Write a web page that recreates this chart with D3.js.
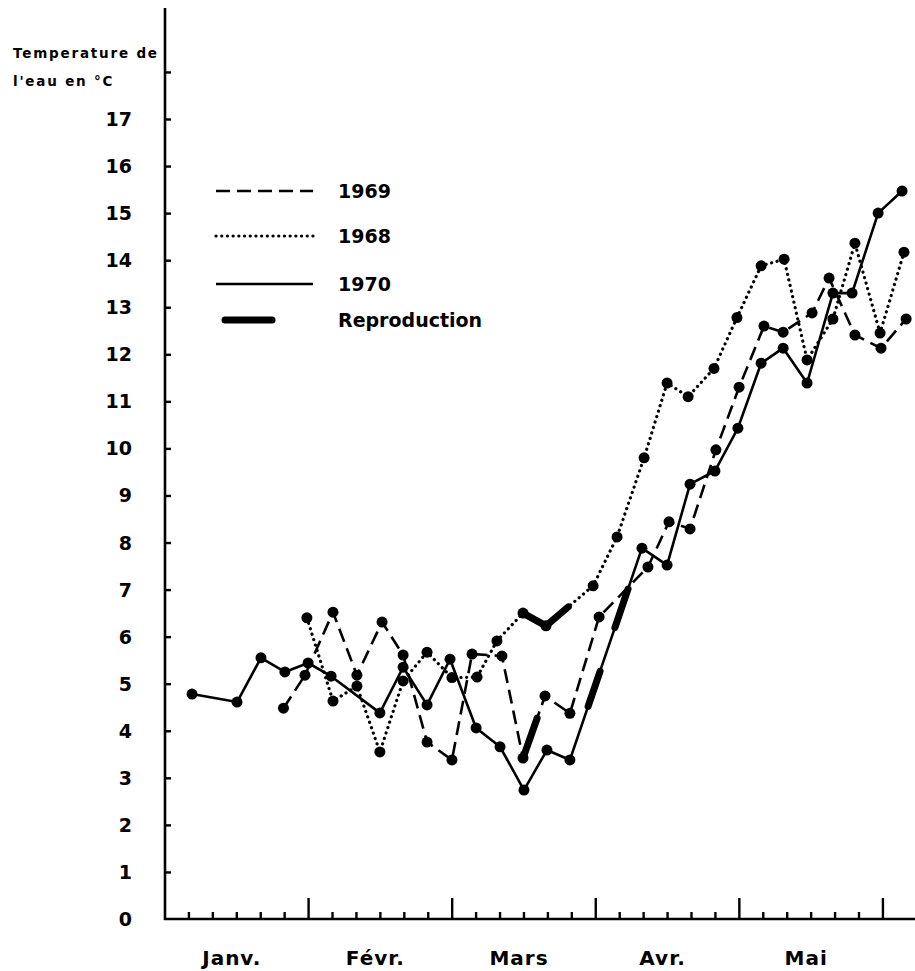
<!DOCTYPE html>
<html>
<head>
<meta charset="utf-8">
<script src="https://cdn.jsdelivr.net/npm/d3@7/dist/d3.min.js"></script>
<style>
  html, body { margin: 0; padding: 0; background: #fff; }
  svg { display: block; }
  text { font-family: "DejaVu Sans", sans-serif; font-weight: bold; fill: #000; }
</style>
</head>
<body>
<div id="chart"></div>
<script>
// Time axis in fifths of a month (6 divisions per month, Jan start = 0)
const months = ["Janv.", "Févr.", "Mars", "Avr.", "Mai"];
const yTicks = [0, 1, 2, 3, 4, 5, 6, 7, 8, 9, 10, 11, 12, 13, 14, 15, 16, 17];

// 1970 — solid
const t1970 = [1.13, 3.01, 4.01, 5.01, 5.98, 6.94, 8.98, 9.95, 10.95, 11.91, 13.0, 14.0, 15.0, 15.96, 16.92, 19.93, 20.98, 21.94, 22.98, 23.94, 24.91, 25.83, 26.83, 27.91, 28.71, 29.8, 30.8];
const v1970 = [4.78, 4.61, 5.55, 5.25, 5.44, 5.16, 4.38, 5.35, 4.55, 5.52, 4.06, 3.66, 2.74, 3.59, 3.38, 7.88, 7.52, 9.24, 9.52, 10.43, 11.81, 12.13, 11.39, 13.30, 13.30, 15.0, 15.47];

// 1969 — dashed
const t1969 = [4.95, 5.85, 7.02, 8.02, 9.07, 9.95, 10.95, 11.99, 12.83, 14.08, 14.96, 15.88, 16.92, 18.14, 20.18, 21.06, 21.94, 23.02, 23.99, 25.03, 25.83, 27.04, 27.75, 28.83, 29.92, 30.97];
const v1969 = [4.48, 5.18, 6.52, 5.18, 6.31, 5.61, 3.76, 3.38, 5.63, 5.59, 3.42, 4.74, 4.37, 6.42, 7.48, 8.44, 8.29, 9.97, 11.3, 12.6, 12.47, 12.88, 13.62, 12.41, 12.13, 12.75];

// 1968 — dotted
const t1968 = [5.93, 7.02, 8.02, 8.98, 9.95, 10.95, 11.99, 13.04, 13.87, 14.96, 15.92, 17.89, 18.89, 20.02, 20.98, 21.86, 22.94, 23.9, 24.91, 25.87, 26.83, 27.91, 28.83, 29.88, 30.88];
const v1968 = [6.40, 4.63, 4.95, 3.55, 5.06, 5.67, 5.13, 5.14, 5.91, 6.50, 6.23, 7.08, 8.12, 9.80, 11.39, 11.1, 11.7, 12.78, 13.88, 14.02, 11.88, 12.75, 14.36, 12.45, 14.17];

// Reproduction periods (start, end on the time axis) for each year
const repro1968 = [[14.96, 16.85]];
const repro1969 = [[14.96, 15.55]];
const repro1970 = [[17.68, 18.18], [18.8, 19.35]];

const legendLabels = ["1969", "1968", "1970", "Reproduction"];

const W = 915, H = 971;
const svg = d3.select("#chart").append("svg").attr("width", W).attr("height", H);

const x = d3.scaleLinear().domain([0, 31.34]).range([165, 915]);
const y = d3.scaleLinear().domain([0, 17]).range([919, 119]);

const styles = {
  solid:  { width: 2.6, dash: null, cap: "butt" },
  dashed: { width: 2.6, dash: "14 7", cap: "butt" },
  dotted: { width: 3.2, dash: "0.1 5.6", cap: "round" }
};

const series = [
  { t: t1968, v: v1968, style: styles.dotted, repro: repro1968 },
  { t: t1969, v: v1969, style: styles.dashed, repro: repro1969 },
  { t: t1970, v: v1970, style: styles.solid,  repro: repro1970 }
];

// ---- axes ----
const axes = svg.append("g").attr("stroke", "#000").attr("fill", "none");
axes.append("line").attr("x1", x(0)).attr("x2", x(0)).attr("y1", 8).attr("y2", y(0) + 1).attr("stroke-width", 2.6);
axes.append("line").attr("x1", x(0) - 1).attr("x2", 915).attr("y1", y(0)).attr("y2", y(0)).attr("stroke-width", 2.6);

// y ticks (inside), including the unlabelled 18
const yAxis = d3.axisRight(y).tickValues(d3.range(1, 19)).tickSize(6).tickFormat("");
svg.append("g").attr("transform", `translate(${x(0)},0)`).call(yAxis)
  .call(g => g.select(".domain").remove())
  .call(g => g.selectAll("line").attr("stroke-width", 2.4));

// y labels
svg.append("g").selectAll("text").data(yTicks).join("text")
  .attr("x", 132).attr("y", d => y(d) + 7)
  .attr("text-anchor", "end").attr("font-size", 19)
  .text(d => d);

// x ticks: minor every fifth of a month, major at month boundaries
const xTickVals = d3.range(1, 31);
svg.append("g").selectAll("line").data(xTickVals).join("line")
  .attr("x1", d => x(d)).attr("x2", d => x(d))
  .attr("y1", y(0)).attr("y2", d => d % 6 === 0 ? y(0) - 21 : y(0) - 7)
  .attr("stroke", "#000").attr("stroke-width", 2.4);

svg.append("g").selectAll("text").data(months).join("text")
  .attr("x", (d, i) => x(i * 6 + 3) - 5).attr("y", 965)
  .attr("text-anchor", "middle").attr("font-size", 20).attr("letter-spacing", 1)
  .text(d => d);

// axis title
const title = svg.append("g");
title.append("text").attr("x", 13).attr("y", 58).attr("letter-spacing", 1.8).attr("font-size", 13.5).text("Temperature de");
title.append("text").attr("x", 13).attr("y", 86).attr("letter-spacing", 1.8).attr("font-size", 13.5).text("l'eau en °C");

// ---- series ----
const line = d3.line().x(d => x(d[0])).y(d => y(d[1]));

function pts(s) { return s.t.map((t, i) => [t, s.v[i]]); }

function valueAt(s, t) {
  for (let i = 0; i < s.t.length - 1; i++) {
    if (t >= s.t[i] && t <= s.t[i + 1]) {
      const f = (t - s.t[i]) / (s.t[i + 1] - s.t[i]);
      return s.v[i] + f * (s.v[i + 1] - s.v[i]);
    }
  }
  return s.v[s.v.length - 1];
}

function subPath(s, t0, t1) {
  const out = [[t0, valueAt(s, t0)]];
  s.t.forEach((t, i) => { if (t > t0 && t < t1) out.push([t, s.v[i]]); });
  out.push([t1, valueAt(s, t1)]);
  return out;
}

const gLines = svg.append("g");
series.forEach(s => {
  gLines.append("path").datum(pts(s)).attr("d", line)
    .attr("fill", "none").attr("stroke", "#000")
    .attr("stroke-width", s.style.width)
    .attr("stroke-dasharray", s.style.dash)
    .attr("stroke-linecap", s.style.cap)
    .attr("stroke-linejoin", "round");
});

// reproduction: thick overlay along the curve
const gRepro = svg.append("g");
series.forEach(s => {
  s.repro.forEach(([a, b]) => {
    gRepro.append("path").datum(subPath(s, a, b)).attr("d", line)
      .attr("fill", "none").attr("stroke", "#000").attr("stroke-width", 7)
      .attr("stroke-linecap", "round").attr("stroke-linejoin", "round");
  });
});

// markers
const gDots = svg.append("g");
series.forEach(s => {
  gDots.selectAll(null).data(pts(s)).join("circle")
    .attr("cx", d => x(d[0])).attr("cy", d => y(d[1])).attr("r", 5.5).attr("fill", "#000");
});

// ---- legend ----
const legendStyles = [styles.dashed, styles.dotted, styles.solid, null];
const legendRowY = [191, 236, 284, 320];
const lg = svg.append("g");
legendLabels.forEach((lab, i) => {
  const st = legendStyles[i];
  if (st) {
    lg.append("line").attr("x1", 216).attr("x2", 313).attr("y1", legendRowY[i]).attr("y2", legendRowY[i])
      .attr("stroke", "#000").attr("stroke-width", st.width)
      .attr("stroke-dasharray", st.dash).attr("stroke-linecap", st.cap);
  } else {
    lg.append("line").attr("x1", 225).attr("x2", 272).attr("y1", legendRowY[i]).attr("y2", legendRowY[i])
      .attr("stroke", "#000").attr("stroke-width", 7).attr("stroke-linecap", "round");
  }
  lg.append("text").attr("x", 338).attr("y", legendRowY[i] + 7).attr("font-size", 19).text(lab);
});
</script>
</body>
</html>
